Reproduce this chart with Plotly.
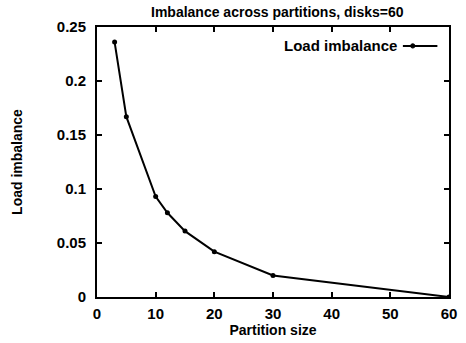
import plotly.graph_objects as go

partition_size = [3, 5, 10, 12, 15, 20, 30, 60]
load_imbalance = [0.236, 0.167, 0.093, 0.078, 0.061, 0.042, 0.020, 0.0]

title_text = "Imbalance across partitions, disks=60"
x_title = "Partition size"
y_title = "Load imbalance"
series_name = "Load imbalance"

FONT = "Liberation Sans, Arial, sans-serif"

fig = go.Figure()
fig.add_trace(go.Scatter(
    x=partition_size, y=load_imbalance, mode="lines+markers",
    name=series_name, showlegend=False,
    line=dict(color="black", width=2),
    marker=dict(color="black", size=5, symbol="circle"),
))

axis_common = dict(
    showline=True, linecolor="black", linewidth=2, mirror="ticks",
    ticks="inside", ticklen=5, tickwidth=1.5, tickcolor="black",
    showgrid=False, zeroline=False,
    tickfont=dict(family=FONT, size=15, color="black", weight="bold"),
)

fig.update_layout(
    width=466, height=343,
    margin=dict(l=97, r=9, t=27, b=46),
    paper_bgcolor="white", plot_bgcolor="white",
    title=dict(text=title_text, x=0.595, xanchor="center", y=0.965, yanchor="middle",
               font=dict(family=FONT, size=14, color="black", weight="bold")),
    xaxis=dict(range=[0, 60], dtick=10, tick0=0, ticklabelstandoff=2,
               title=dict(text=x_title, standoff=0,
                          font=dict(family=FONT, size=14, color="black", weight="bold")),
               **axis_common),
    yaxis=dict(range=[0, 0.25], dtick=0.05, tick0=0, ticklabelstandoff=6,
               title=dict(text=y_title, standoff=31,
                          font=dict(family=FONT, size=14, color="black", weight="bold")),
               **axis_common),
)

# gnuplot-style key: text on the left, sample on the right
KEY_Y = 0.93
fig.add_annotation(xref="paper", yref="paper", x=0.858, y=KEY_Y, xanchor="right", yanchor="middle",
                   text=series_name, showarrow=False,
                   font=dict(family=FONT, size=15, color="black", weight="bold"))
fig.add_shape(type="line", xref="paper", yref="paper", x0=0.869, x1=0.967, y0=KEY_Y, y1=KEY_Y,
              line=dict(color="black", width=2))
fig.add_shape(type="circle", xref="paper", yref="paper", x0=0.897 - 0.006, x1=0.897 + 0.006,
              y0=KEY_Y - 0.008, y1=KEY_Y + 0.008, fillcolor="black", line=dict(color="black", width=1))

fig.write_html("out.html")
